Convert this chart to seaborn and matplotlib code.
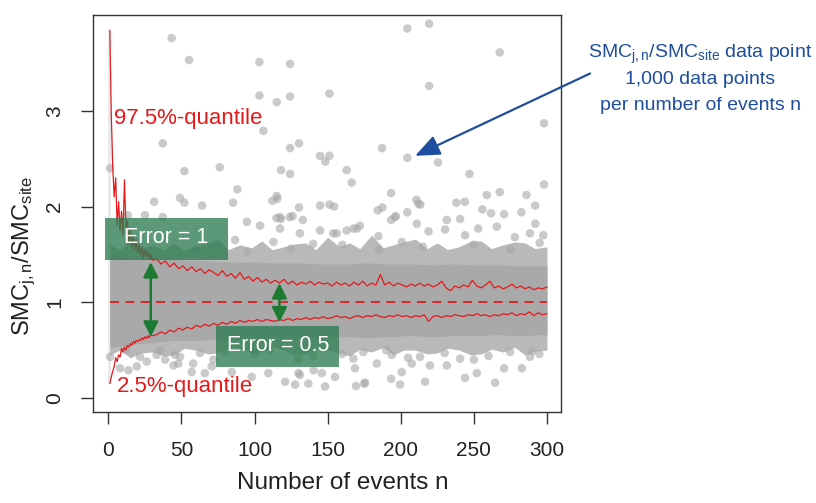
import numpy as np
import pandas as pd
import matplotlib
matplotlib.use("Agg")
from matplotlib import pyplot as plt
from matplotlib.patches import Rectangle
import seaborn as sns

sns.set_style("ticks")
plt.rcParams['font.family'] = ['Liberation Sans', 'DejaVu Sans']
plt.rcParams['mathtext.fontset'] = 'custom'
plt.rcParams['mathtext.rm'] = 'Liberation Sans'
plt.rcParams['mathtext.it'] = 'Liberation Sans:italic'

# ---- quantile lines ----
q_n = list(range(1, 31)) + list(range(33, 301, 3))
q975 = [3.84, 2.95, 2.40, 2.10, 2.30, 1.80, 2.05, 1.75, 1.95, 1.70,
        2.28, 1.78, 1.85, 1.62, 1.75, 1.58, 1.70, 1.55, 1.66, 1.52,
        1.60, 1.50, 1.58, 1.47, 1.55, 1.48, 1.53, 1.45, 1.50, 1.44,
        1.45, 1.40, 1.43, 1.37, 1.41, 1.35, 1.38, 1.33, 1.37, 1.32,
        1.35, 1.30, 1.34, 1.31, 1.28, 1.33, 1.27, 1.30, 1.25, 1.31,
        1.24, 1.27, 1.22, 1.26, 1.21, 1.24, 1.20, 1.23, 1.20, 1.24,
        1.19, 1.22, 1.18, 1.21, 1.19, 1.22, 1.18, 1.21, 1.19, 1.20,
        1.17, 1.21, 1.18, 1.20, 1.17, 1.21, 1.18, 1.22, 1.17, 1.20,
        1.18, 1.29, 1.18, 1.21, 1.17, 1.20, 1.18, 1.16, 1.19, 1.17,
        1.20, 1.17, 1.19, 1.16, 1.18, 1.22, 1.15, 1.12, 1.17, 1.15,
        1.18, 1.16, 1.23, 1.17, 1.15, 1.18, 1.22, 1.15, 1.17, 1.14,
        1.16, 1.19, 1.15, 1.17, 1.14, 1.16, 1.13, 1.15, 1.14, 1.16]
q025 = [0.15, 0.22, 0.28, 0.33, 0.42, 0.38, 0.45, 0.43, 0.52, 0.48,
        0.53, 0.50, 0.55, 0.53, 0.57, 0.55, 0.59, 0.57, 0.60, 0.59,
        0.61, 0.60, 0.63, 0.61, 0.64, 0.62, 0.65, 0.63, 0.66, 0.65,
        0.66, 0.69, 0.67, 0.71, 0.69, 0.73, 0.71, 0.74, 0.72, 0.76,
        0.74, 0.77, 0.75, 0.78, 0.76, 0.79, 0.77, 0.80, 0.78, 0.81,
        0.79, 0.81, 0.80, 0.82, 0.80, 0.82, 0.81, 0.80, 0.82, 0.81,
        0.83, 0.81, 0.83, 0.82, 0.84, 0.82, 0.84, 0.83, 0.85, 0.83,
        0.84, 0.86, 0.84, 0.85, 0.83, 0.85, 0.86, 0.84, 0.86, 0.85,
        0.87, 0.85, 0.84, 0.86, 0.85, 0.87, 0.85, 0.86, 0.84, 0.86,
        0.85, 0.87, 0.80, 0.85, 0.86, 0.84, 0.86, 0.85, 0.87, 0.86,
        0.85, 0.87, 0.86, 0.88, 0.86, 0.87, 0.85, 0.87, 0.86, 0.88,
        0.87, 0.89, 0.86, 0.88, 0.87, 0.90, 0.86, 0.89, 0.87, 0.88]

# ---- dense part of the 1,000 points per n (band edges) ----
band_n = [1, 8, 15, 22, 30, 38, 45, 52, 60, 68, 75, 82, 90, 98, 105, 112,
          120, 128, 135, 142, 150, 158, 165, 172, 180, 188, 195, 202, 210,
          218, 225, 232, 240, 248, 255, 262, 270, 278, 285, 292, 300]
core_lo = [0.52, 0.54, 0.55, 0.57, 0.58, 0.59, 0.60, 0.60, 0.60, 0.61, 0.61,
           0.62, 0.62, 0.62, 0.62, 0.63, 0.63, 0.62, 0.62, 0.63, 0.63, 0.64,
           0.64, 0.63, 0.63, 0.64, 0.64, 0.65, 0.65, 0.64, 0.64, 0.65, 0.65,
           0.65, 0.65, 0.66, 0.66, 0.65, 0.65, 0.66, 0.66]
core_hi = [1.48, 1.48, 1.47, 1.47, 1.46, 1.45, 1.45, 1.44, 1.44, 1.43, 1.43,
           1.42, 1.42, 1.42, 1.42, 1.41, 1.41, 1.41, 1.41, 1.40, 1.40, 1.40,
           1.40, 1.41, 1.41, 1.40, 1.40, 1.40, 1.40, 1.39, 1.39, 1.40, 1.40,
           1.39, 1.39, 1.39, 1.39, 1.38, 1.38, 1.38, 1.38]
fringe_lo = [0.45, 0.50, 0.42, 0.47, 0.48, 0.44, 0.45, 0.52, 0.50, 0.46, 0.47,
             0.53, 0.52, 0.47, 0.48, 0.54, 0.50, 0.45, 0.46, 0.52, 0.50, 0.47,
             0.44, 0.51, 0.48, 0.53, 0.45, 0.50, 0.50, 0.46, 0.47, 0.52, 0.50,
             0.45, 0.46, 0.51, 0.48, 0.53, 0.45, 0.49, 0.50]
fringe_hi = [1.60, 1.55, 1.65, 1.56, 1.60, 1.55, 1.62, 1.54, 1.58, 1.62, 1.66,
             1.55, 1.60, 1.57, 1.64, 1.55, 1.58, 1.61, 1.62, 1.55, 1.68, 1.58,
             1.62, 1.56, 1.70, 1.57, 1.60, 1.63, 1.66, 1.56, 1.62, 1.55, 1.58,
             1.64, 1.64, 1.56, 1.60, 1.63, 1.62, 1.56, 1.58]
n1_spread = [0.15, 3.85]

# ---- scattered points outside the dense band ----
pts_n = [43.3, 55.2, 103.3, 124.3, 103.3, 115.2, 124.3, 151.2, 106, 37.2,
         124.3, 130.4, 144.8, 151.2, 148.4, 1.2, 52, 76.2, 118.1, 124.3,
         163, 166.5, 88.2, 31.3, 49, 52, 64.1, 85.3, 112.2, 115.2,
         115.5, 130.4, 144.8, 151.2, 154.4, 184.3, 115, 118, 124, 126,
         133, 25, 37.2, 13.3,
         204.5, 219.4, 267.7, 219.4, 298, 187.2, 204.5, 225.5, 247, 298,
         193.4, 258.8, 267.7, 286, 210.7, 213.4, 243.8, 291.9, 187.4, 204.5,
         255.8, 261.8, 270.7, 282.5, 196,
         212, 238, 196.6, 193.4, 231.5, 240.6, 292, 172, 167.6, 156.2,
         211, 219, 230.3, 244, 253, 265.7, 278, 288.4, 297.5, 184.7, 200.7,
         117.4, 94.7, 103.8, 117.4, 131, 144.8, 163, 170, 86.7, 112.9,
         140, 153.8,
         169.4, 175, 193.4, 199.5, 216.6, 244, 264.5, 252, 270.7, 282.8,
         155, 168.7, 183.6, 207.5, 220, 231.5, 294.8, 240.6, 274.8, 288.4,
         193.8, 213.2, 167.6, 174.4, 200.7,
         1.2, 8, 13.7, 19.4, 26.3, 33, 38.8, 45.6, 47.9, 12.6,
         57, 66, 70.7, 84.4, 98, 109.4, 120.9, 130, 136.8, 148.2,
         127.7, 146, 131, 140.4, 175.6, 35.4, 49, 44.5, 58, 62.7,
         71.8, 21.7,
         60, 75, 95, 125, 160, 185, 215, 250, 275, 295,
         80, 110, 140, 190, 230, 260, 290, 100, 160, 205, 250, 130]
pts_v = [3.76, 3.53, 3.51, 3.49, 3.16, 3.09, 3.15, 3.18, 2.79, 2.66,
         2.61, 2.66, 2.53, 2.53, 2.47, 2.40, 2.37, 2.41, 2.38, 2.34,
         2.38, 2.25, 2.18, 2.05, 2.09, 2.04, 2.01, 2.04, 2.06, 2.11,
         2.08, 1.99, 2.01, 2.02, 2.00, 1.96, 1.88, 1.87, 1.89, 1.90,
         1.86, 1.91, 1.89, 1.91,
         3.86, 3.91, 3.61, 3.26, 2.87, 2.61, 2.51, 2.46, 2.34, 2.23,
         2.14, 2.12, 2.15, 2.12, 2.07, 2.02, 2.05, 2.01, 1.99, 1.94,
         1.97, 1.93, 1.92, 1.94, 1.89,
         2.03, 2.04, 1.90, 1.86, 1.86, 1.87, 1.82, 1.80, 1.77, 1.72,
         1.82, 1.74, 1.76, 1.70, 1.77, 1.79, 1.68, 1.72, 1.70, 1.69, 1.63,
         1.89, 1.84, 1.80, 1.77, 1.72, 1.75, 1.75, 1.77, 1.65, 1.63,
         1.61, 1.72,
         0.125, 0.15, 0.20, 0.14, 0.17, 0.21, 0.16, 0.26, 0.31, 0.31,
         0.22, 0.31, 0.36, 0.36, 0.34, 0.34, 0.46, 0.41, 0.48, 0.43,
         0.45, 0.43, 0.41, 0.48, 0.27,
         0.43, 0.31, 0.29, 0.33, 0.38, 0.45, 0.40, 0.45, 0.36, 0.50,
         0.27, 0.26, 0.33, 0.27, 0.22, 0.26, 0.17, 0.26, 0.15, 0.12,
         0.14, 0.26, 0.24, 0.29, 0.16, 0.50, 0.43, 0.34, 0.36, 0.47,
         0.40, 0.43,
         1.55, 1.58, 1.52, 1.56, 1.60, 1.55, 1.58, 1.60, 1.55, 1.62,
         0.48, 0.50, 0.44, 0.50, 0.47, 0.44, 0.49, 0.46, 0.46, 0.42, 0.40, 0.40]

pts = pd.DataFrame({"n": pts_n, "ratio": pts_v})
quant = pd.DataFrame({"n": q_n, "q975": q975, "q025": q025})

red = "#e41a1c"
fig = plt.figure(figsize=(8.16, 5.03), dpi=100)
ax = fig.add_axes([0.114, 0.181, 0.5735, 0.789])

ax.fill_between([0, 2], [n1_spread[0]] * 2, [n1_spread[1]] * 2,
                color="#dddddd", alpha=0.6, lw=0)
ax.fill_between(band_n, fringe_lo, fringe_hi, color="#b9b9b9", lw=0)
ax.fill_between(band_n, core_lo, core_hi, color="#a9a9a9", lw=0)
sns.scatterplot(data=pts, x="n", y="ratio", color="#a8a8a8", alpha=0.6,
                s=38, edgecolor="none", ax=ax)

ax.plot([1, 300], [1, 1], color=red, lw=1.3, ls=(0, (5, 3.5)))
sns.lineplot(data=quant, x="n", y="q975", color=red, lw=0.9, ax=ax)
sns.lineplot(data=quant, x="n", y="q025", color=red, lw=0.9, ax=ax)

ax.text(4, 2.92, "97.5%-quantile", color=red, fontsize=16, va="center")
ax.text(6, 0.12, "2.5%-quantile", color=red, fontsize=16, va="center")

# error boxes
box_col = "#2e7d52"
ax.add_patch(Rectangle((-2.3, 1.44), 84.2, 0.44, color=box_col, alpha=0.78,
                       lw=0, zorder=5))
ax.add_patch(Rectangle((73.7, 0.324), 84.1, 0.428, color=box_col, alpha=0.78,
                       lw=0, zorder=5))
ax.text(39.3, 1.68, "Error = 1", color="white", fontsize=15.5,
        ha="center", va="center", zorder=6)
ax.text(116, 0.546, "Error = 0.5", color="white", fontsize=15.5,
        ha="center", va="center", zorder=6)

arrow_green = "#1d7a33"
for xn, y_top, y_bot in [(29, 1.42, 0.64), (117, 1.20, 0.79)]:
    ax.annotate("", xy=(xn, y_bot), xytext=(xn, y_top),
                arrowprops=dict(arrowstyle="<|-|>,head_length=0.5,head_width=0.25",
                                color=arrow_green, lw=1.8, mutation_scale=18,
                                shrinkA=0, shrinkB=0), zorder=7)

ax.annotate("", xy=(209.8, 2.53), xytext=(329.5, 3.39), annotation_clip=False,
            arrowprops=dict(arrowstyle="-|>,head_length=0.6,head_width=0.25",
                            color="#1f4e9e", lw=1.6, mutation_scale=25,
                            shrinkA=0, shrinkB=0))

blue = "#1f4e9e"
fig.text(0.858, 0.891, r"SMC$_\mathrm{j,n}$/SMC$_\mathrm{site}$ data point",
         color=blue, fontsize=14, ha="center", va="center")
fig.text(0.858, 0.841, "1,000 data points", color=blue, fontsize=14,
         ha="center", va="center")
fig.text(0.858, 0.791, "per number of events n", color=blue, fontsize=14,
         ha="center", va="center")

ax.set_xlim(-10.5, 309.6)
ax.set_ylim(-0.146, 4.0)
ax.set_xticks([0, 50, 100, 150, 200, 250, 300])
ax.set_yticks([0, 1, 2, 3])
ax.set_yticklabels(["0", "1", "2", "3"], rotation=90, va="center")
ax.tick_params(axis="both", length=8.6, width=1, color="#333333",
               labelsize=15, labelcolor="#222222")
ax.tick_params(axis="x", pad=12)
ax.tick_params(axis="y", pad=12)
for sp in ax.spines.values():
    sp.set_linewidth(1.0)
    sp.set_color("#333333")

ax.set_xlabel("Number of events n", fontsize=17.5, color="#222222")
ax.set_ylabel(r"SMC$_\mathrm{j,n}$/SMC$_\mathrm{site}$", fontsize=17,
              color="#222222")
ax.xaxis.set_label_coords(0.534, -0.152)
ax.yaxis.set_label_coords(-0.118, 0.393)

fig.savefig("out.png", dpi=100)
